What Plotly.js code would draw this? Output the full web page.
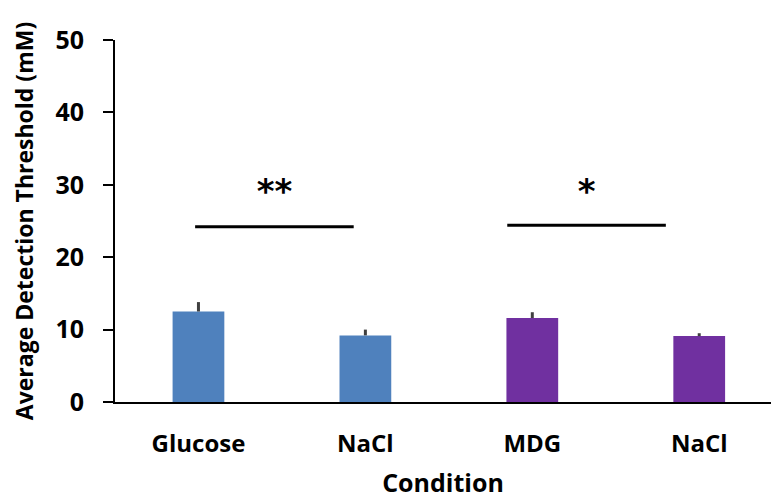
<!DOCTYPE html>
<html>
<head>
<meta charset="utf-8">
<script src="https://cdn.plot.ly/plotly-3.0.1.min.js"></script>
<style>html,body{margin:0;padding:0;background:#fff}#chart{width:771px;height:499px}</style>
</head>
<body>
<div id="chart"></div>
<script>
var categories = ['Glucose', 'NaCl', 'MDG', 'NaCl'];
var positions = [0, 1, 2, 3];
var values = [12.5, 9.2, 11.6, 9.1];
var errors = [1.3, 0.8, 0.8, 0.4];
var barColors = ['#4F81BD', '#4F81BD', '#7030A0', '#7030A0'];
var sigStart = [-0.02, 1.85];
var sigEnd = [0.93, 2.80];
var sigLevel = [24.2, 24.4];
var sigLabels = ['**', '*'];
var sigLabelY = [28.6, 28.6];

var font = 'Open Sans, Liberation Sans, sans-serif';
var traces = [{
  type: 'bar',
  x: positions,
  y: values,
  width: 0.31,
  marker: {color: barColors, line: {width: 0}},
  error_y: {type: 'data', array: errors, arrayminus: errors.map(function(){return 0;}), symmetric: false,
            color: '#404040', thickness: 3, width: 0},
  hoverinfo: 'skip'
}];
for (var i = 0; i < sigLabels.length; i++) {
  traces.push({
    type: 'scatter', mode: 'lines',
    x: [sigStart[i], sigEnd[i]], y: [sigLevel[i], sigLevel[i]],
    line: {color: '#000', width: 3}, hoverinfo: 'skip'
  });
  traces.push({
    type: 'scatter', mode: 'text',
    x: [(sigStart[i] + sigEnd[i]) / 2], y: [sigLabelY[i]],
    text: [sigLabels[i]], textposition: 'middle center',
    textfont: {family: 'DejaVu Sans, sans-serif', size: 34, weight: 'bold', color: '#000'},
    hoverinfo: 'skip'
  });
}

var layout = {
  width: 771, height: 499,
  margin: {l: 115, r: 0, t: 40, b: 97},
  paper_bgcolor: '#fff', plot_bgcolor: '#fff',
  showlegend: false,
  font: {family: font, color: '#000'},
  xaxis: {
    range: [-0.5, 3.43],
    tickvals: positions, ticktext: categories,
    showgrid: false, zeroline: false,
    showline: true, linecolor: '#000', linewidth: 2,
    ticks: '', ticklabelstandoff: 19,
    tickfont: {family: font, size: 24, weight: 'bold', color: '#000'},
    title: {text: 'Condition', font: {family: font, size: 25, weight: 'bold', color: '#000'}, standoff: 26}
  },
  yaxis: {
    range: [0, 50], dtick: 10,
    showgrid: false, zeroline: false,
    showline: true, linecolor: '#000', linewidth: 2,
    ticks: 'outside', ticklen: 10, tickwidth: 2, tickcolor: '#000',
    ticklabelstandoff: 14,
    tickfont: {family: font, size: 25, weight: 'bold', color: '#000'},
    title: {text: 'Average Detection Threshold (mM)', font: {family: font, size: 23, weight: 'bold', color: '#000'}, standoff: 15}
  }
};
Plotly.newPlot('chart', traces, layout, {staticPlot: true});
</script>
</body>
</html>
